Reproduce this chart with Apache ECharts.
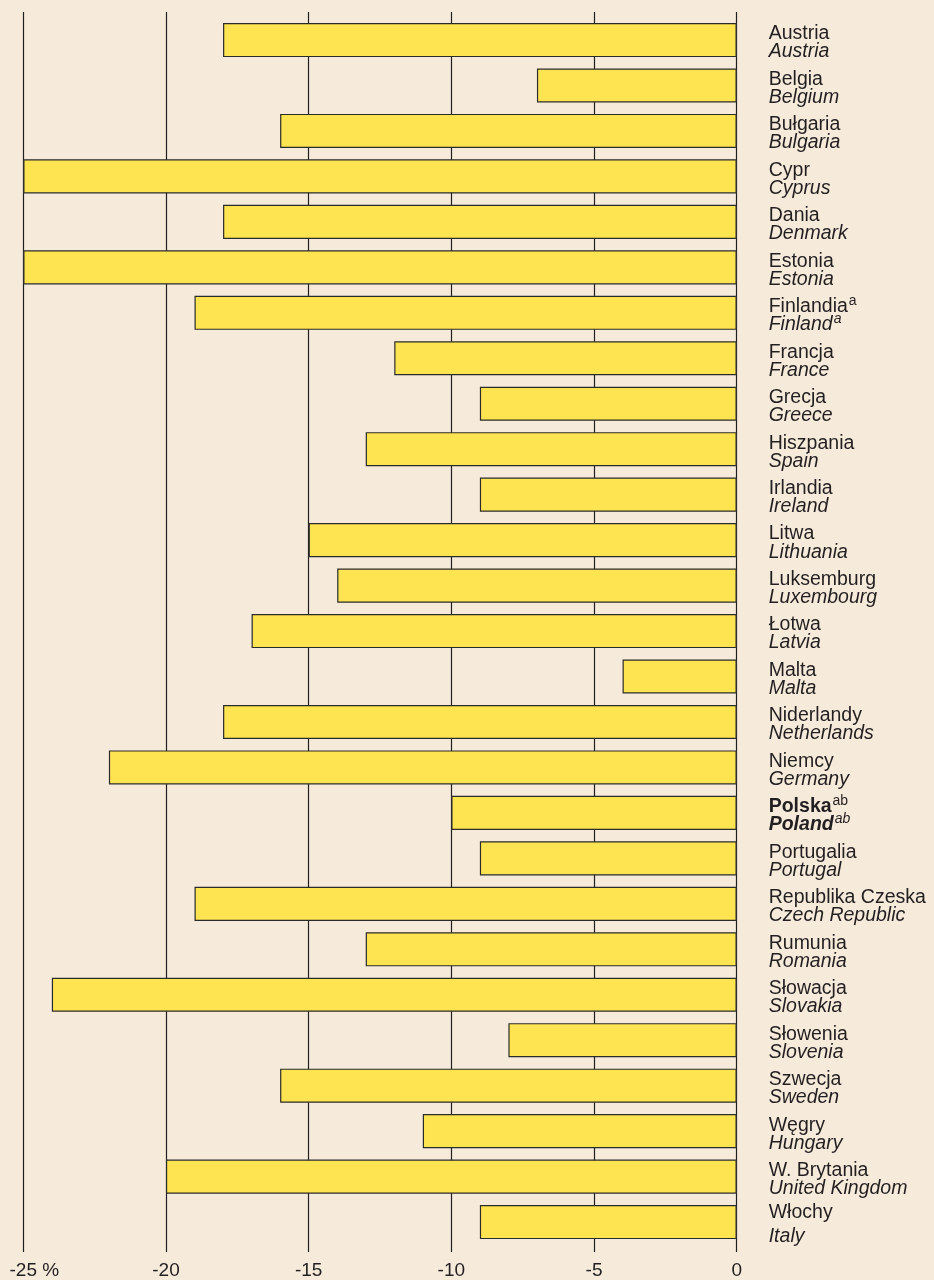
<!DOCTYPE html>
<html>
<head>
<meta charset="utf-8">
<script src="https://cdn.jsdelivr.net/npm/echarts@6/dist/echarts.min.js"></script>
<style>
  html, body { margin: 0; padding: 0; background: #F6EBDB; }
  #chart { width: 934px; height: 1280px; }
</style>
</head>
<body>
<div id="chart"></div>
<script>
// Country names (Polish / English), footnote marks and change in %
const namesPl = ['Austria', 'Belgia', 'Bułgaria', 'Cypr', 'Dania', 'Estonia', 'Finlandia', 'Francja', 'Grecja',
  'Hiszpania', 'Irlandia', 'Litwa', 'Luksemburg', 'Łotwa', 'Malta', 'Niderlandy', 'Niemcy', 'Polska',
  'Portugalia', 'Republika Czeska', 'Rumunia', 'Słowacja', 'Słowenia', 'Szwecja', 'Węgry', 'W. Brytania', 'Włochy'];
const namesEn = ['Austria', 'Belgium', 'Bulgaria', 'Cyprus', 'Denmark', 'Estonia', 'Finland', 'France', 'Greece',
  'Spain', 'Ireland', 'Lithuania', 'Luxembourg', 'Latvia', 'Malta', 'Netherlands', 'Germany', 'Poland',
  'Portugal', 'Czech Republic', 'Romania', 'Slovakia', 'Slovenia', 'Sweden', 'Hungary', 'United Kingdom', 'Italy'];
const notes = ['', '', '', '', '', '', 'a', '', '', '', '', '', '', '', '', '', '', 'ab', '', '', '', '', '', '', '', '', ''];
const values = [-18, -7, -16, -25, -18, -25, -19, -12, -9, -13, -9, -15, -14, -17, -4, -18, -22, -10,
  -9, -19, -13, -24, -8, -16, -11, -20, -9];
const highlighted = 'Polska';
const xTicks = [-25, -20, -15, -10, -5, 0];

const INK = '#231F20';
const FONT = '"Liberation Sans", Arial, Helvetica, sans-serif';
const FS = 19.5;

function richSet(lh) {
  const base = { fontFamily: FONT, fontSize: FS, lineHeight: lh, color: INK };
  // superscript: a short box pinned to the top of the line lifts the mark
  const sup = { fontFamily: FONT, fontSize: 14, height: 6, verticalAlign: 'top', color: INK, padding: [0, 0, 0, 1] };
  return {
    [`n${lh}`]: Object.assign({}, base),
    [`i${lh}`]: Object.assign({}, base, { fontStyle: 'italic' }),
    [`b${lh}`]: Object.assign({}, base, { fontWeight: 'bold' }),
    [`bi${lh}`]: Object.assign({}, base, { fontWeight: 'bold', fontStyle: 'italic' }),
    [`s${lh}`]: Object.assign({}, sup),
    [`si${lh}`]: Object.assign({}, sup, { fontStyle: 'italic' })
  };
}
const rich = Object.assign({}, richSet(18), richSet(24), {
  pad: { fontFamily: FONT, fontSize: 19, color: INK, padding: [0, 0, 0, 22] },
  tick: { fontFamily: FONT, fontSize: 19, color: INK }
});

function countryLabel(value) {
  const i = namesPl.indexOf(value);
  const lh = i === namesPl.length - 1 ? 24 : 18;
  const bold = value === highlighted;
  const p = bold ? `b${lh}` : `n${lh}`;
  const e = bold ? `bi${lh}` : `i${lh}`;
  const note = notes[i];
  let l1 = `{${p}|${namesPl[i]}}`;
  let l2 = `{${e}|${namesEn[i]}}`;
  if (note) {
    l1 += `{s${lh}|${note}}`;
    l2 += `{si${lh}|${note}}`;
  }
  return l1 + '\n' + l2;
}

const chart = echarts.init(document.getElementById('chart'), null, { renderer: 'canvas' });

const left = 23.3, right = 934 - 736.7;

chart.setOption({
  backgroundColor: '#F6EBDB',
  animation: false,
  grid: [
    // frame for the vertical gridlines and the percentage scale
    { left: left, right: right, top: 12, height: 1240, containLabel: false },
    // bars
    { left: left, right: right, top: 17.3, height: 1227.5, containLabel: false }
  ],
  xAxis: [
    {
      gridIndex: 0, type: 'value', min: xTicks[0], max: xTicks[xTicks.length - 1], interval: 5,
      axisLine: { show: false }, axisTick: { show: false },
      splitLine: { show: true, lineStyle: { color: INK, width: 1.2 } },
      axisLabel: {
        margin: 9,
        formatter: v => (v === xTicks[0] ? `{pad|${v} %}` : `{tick|${v}}`),
        rich: rich
      }
    },
    {
      gridIndex: 1, type: 'value', min: xTicks[0], max: xTicks[xTicks.length - 1], interval: 5,
      show: false
    }
  ],
  yAxis: [
    { gridIndex: 0, type: 'value', min: 0, max: 1, show: false },
    {
      gridIndex: 1, type: 'category', data: namesPl, inverse: true, position: 'right',
      axisLine: { show: false }, axisTick: { show: false }, splitLine: { show: false },
      axisLabel: {
        margin: 32, align: 'left', interval: 0,
        padding: [6, 0, 0, 0],
        formatter: countryLabel,
        rich: rich
      }
    }
  ],
  series: [{
    type: 'bar',
    xAxisIndex: 1, yAxisIndex: 1,
    data: values,
    barCategoryGap: '25%',
    itemStyle: { color: '#FFE451', borderColor: '#2B2B2B', borderWidth: 1.2 }
  }]
});
</script>
</body>
</html>
